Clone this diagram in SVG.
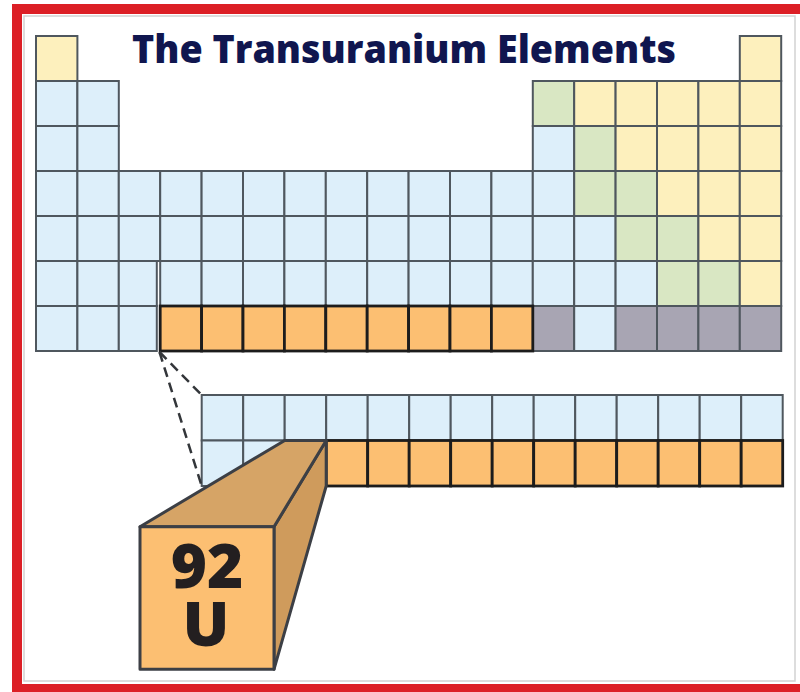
<svg xmlns="http://www.w3.org/2000/svg" width="800" height="692" viewBox="0 0 800 692">
<style>
.c{stroke:#4f575e;stroke-width:2}
.b{fill:#ddeffa}
.y{fill:#fdf0bd}
.g{fill:#d9e7c3}
.k{fill:#a8a5b3}
.o{fill:#fcbf72;stroke:#1c1c1c;stroke-width:2.8}
.face{stroke:#3c3f45;stroke-width:3;stroke-linejoin:round}
.lbl{font-family:"Open Sans","Liberation Sans",sans-serif;font-weight:800;text-anchor:middle}
.dash{stroke:#33363a;stroke-width:2.5;stroke-dasharray:10 6;fill:none}
</style>
<rect x="0" y="0" width="800" height="692" fill="#ffffff"/>
<g id="frame">
<rect x="24" y="16" width="771" height="665" fill="none" stroke="#d2d2d2" stroke-width="1.5"/>
<rect x="17" y="9" width="800" height="680" fill="none" stroke="#dc1f26" stroke-width="10"/>
</g>
<g id="title">
<text class="lbl" x="404" y="63" font-size="39" fill="#10164f" textLength="544" lengthAdjust="spacingAndGlyphs">The Transuranium Elements</text>
</g>
<g id="main-table">
<rect class="c y" x="36" y="36" width="41.4" height="45"/>
<rect class="c y" x="739.8" y="36" width="41.4" height="45"/>
<rect class="c b" x="36" y="81" width="41.4" height="45"/>
<rect class="c b" x="77.4" y="81" width="41.4" height="45"/>
<rect class="c g" x="532.8" y="81" width="41.4" height="45"/>
<rect class="c y" x="574.2" y="81" width="41.4" height="45"/>
<rect class="c y" x="615.6" y="81" width="41.4" height="45"/>
<rect class="c y" x="657" y="81" width="41.4" height="45"/>
<rect class="c y" x="698.4" y="81" width="41.4" height="45"/>
<rect class="c y" x="739.8" y="81" width="41.4" height="45"/>
<rect class="c b" x="36" y="126" width="41.4" height="45"/>
<rect class="c b" x="77.4" y="126" width="41.4" height="45"/>
<rect class="c b" x="532.8" y="126" width="41.4" height="45"/>
<rect class="c g" x="574.2" y="126" width="41.4" height="45"/>
<rect class="c y" x="615.6" y="126" width="41.4" height="45"/>
<rect class="c y" x="657" y="126" width="41.4" height="45"/>
<rect class="c y" x="698.4" y="126" width="41.4" height="45"/>
<rect class="c y" x="739.8" y="126" width="41.4" height="45"/>
<rect class="c b" x="36" y="171" width="41.4" height="45"/>
<rect class="c b" x="77.4" y="171" width="41.4" height="45"/>
<rect class="c b" x="118.8" y="171" width="41.4" height="45"/>
<rect class="c b" x="160.2" y="171" width="41.4" height="45"/>
<rect class="c b" x="201.6" y="171" width="41.4" height="45"/>
<rect class="c b" x="243" y="171" width="41.4" height="45"/>
<rect class="c b" x="284.4" y="171" width="41.4" height="45"/>
<rect class="c b" x="325.8" y="171" width="41.4" height="45"/>
<rect class="c b" x="367.2" y="171" width="41.4" height="45"/>
<rect class="c b" x="408.6" y="171" width="41.4" height="45"/>
<rect class="c b" x="450" y="171" width="41.4" height="45"/>
<rect class="c b" x="491.4" y="171" width="41.4" height="45"/>
<rect class="c b" x="532.8" y="171" width="41.4" height="45"/>
<rect class="c g" x="574.2" y="171" width="41.4" height="45"/>
<rect class="c g" x="615.6" y="171" width="41.4" height="45"/>
<rect class="c y" x="657" y="171" width="41.4" height="45"/>
<rect class="c y" x="698.4" y="171" width="41.4" height="45"/>
<rect class="c y" x="739.8" y="171" width="41.4" height="45"/>
<rect class="c b" x="36" y="216" width="41.4" height="45"/>
<rect class="c b" x="77.4" y="216" width="41.4" height="45"/>
<rect class="c b" x="118.8" y="216" width="41.4" height="45"/>
<rect class="c b" x="160.2" y="216" width="41.4" height="45"/>
<rect class="c b" x="201.6" y="216" width="41.4" height="45"/>
<rect class="c b" x="243" y="216" width="41.4" height="45"/>
<rect class="c b" x="284.4" y="216" width="41.4" height="45"/>
<rect class="c b" x="325.8" y="216" width="41.4" height="45"/>
<rect class="c b" x="367.2" y="216" width="41.4" height="45"/>
<rect class="c b" x="408.6" y="216" width="41.4" height="45"/>
<rect class="c b" x="450" y="216" width="41.4" height="45"/>
<rect class="c b" x="491.4" y="216" width="41.4" height="45"/>
<rect class="c b" x="532.8" y="216" width="41.4" height="45"/>
<rect class="c b" x="574.2" y="216" width="41.4" height="45"/>
<rect class="c g" x="615.6" y="216" width="41.4" height="45"/>
<rect class="c g" x="657" y="216" width="41.4" height="45"/>
<rect class="c y" x="698.4" y="216" width="41.4" height="45"/>
<rect class="c y" x="739.8" y="216" width="41.4" height="45"/>
<rect class="c b" x="36" y="261" width="41.4" height="45"/>
<rect class="c b" x="77.4" y="261" width="41.4" height="45"/>
<rect class="c b" x="118.8" y="261" width="38" height="45"/>
<rect class="c b" x="160.2" y="261" width="41.4" height="45"/>
<rect class="c b" x="201.6" y="261" width="41.4" height="45"/>
<rect class="c b" x="243" y="261" width="41.4" height="45"/>
<rect class="c b" x="284.4" y="261" width="41.4" height="45"/>
<rect class="c b" x="325.8" y="261" width="41.4" height="45"/>
<rect class="c b" x="367.2" y="261" width="41.4" height="45"/>
<rect class="c b" x="408.6" y="261" width="41.4" height="45"/>
<rect class="c b" x="450" y="261" width="41.4" height="45"/>
<rect class="c b" x="491.4" y="261" width="41.4" height="45"/>
<rect class="c b" x="532.8" y="261" width="41.4" height="45"/>
<rect class="c b" x="574.2" y="261" width="41.4" height="45"/>
<rect class="c b" x="615.6" y="261" width="41.4" height="45"/>
<rect class="c g" x="657" y="261" width="41.4" height="45"/>
<rect class="c g" x="698.4" y="261" width="41.4" height="45"/>
<rect class="c y" x="739.8" y="261" width="41.4" height="45"/>
<rect class="c b" x="36" y="306" width="41.4" height="45"/>
<rect class="c b" x="77.4" y="306" width="41.4" height="45"/>
<rect class="c b" x="118.8" y="306" width="38" height="45"/>
<rect class="c k" x="532.8" y="306" width="41.4" height="45"/>
<rect class="c b" x="574.2" y="306" width="41.4" height="45"/>
<rect class="c k" x="615.6" y="306" width="41.4" height="45"/>
<rect class="c k" x="657" y="306" width="41.4" height="45"/>
<rect class="c k" x="698.4" y="306" width="41.4" height="45"/>
<rect class="c k" x="739.8" y="306" width="41.4" height="45"/>
<rect class="o" x="160.2" y="306" width="41.4" height="45"/>
<rect class="o" x="201.6" y="306" width="41.4" height="45"/>
<rect class="o" x="243" y="306" width="41.4" height="45"/>
<rect class="o" x="284.4" y="306" width="41.4" height="45"/>
<rect class="o" x="325.8" y="306" width="41.4" height="45"/>
<rect class="o" x="367.2" y="306" width="41.4" height="45"/>
<rect class="o" x="408.6" y="306" width="41.4" height="45"/>
<rect class="o" x="450" y="306" width="41.4" height="45"/>
<rect class="o" x="491.4" y="306" width="41.4" height="45"/>
</g>
<g id="actinide-row">
<rect class="c b" x="201.7" y="395" width="41.5" height="45.5"/>
<rect class="c b" x="243.2" y="395" width="41.5" height="45.5"/>
<rect class="c b" x="284.7" y="395" width="41.5" height="45.5"/>
<rect class="c b" x="326.2" y="395" width="41.5" height="45.5"/>
<rect class="c b" x="367.7" y="395" width="41.5" height="45.5"/>
<rect class="c b" x="409.2" y="395" width="41.5" height="45.5"/>
<rect class="c b" x="450.7" y="395" width="41.5" height="45.5"/>
<rect class="c b" x="492.2" y="395" width="41.5" height="45.5"/>
<rect class="c b" x="533.7" y="395" width="41.5" height="45.5"/>
<rect class="c b" x="575.2" y="395" width="41.5" height="45.5"/>
<rect class="c b" x="616.7" y="395" width="41.5" height="45.5"/>
<rect class="c b" x="658.2" y="395" width="41.5" height="45.5"/>
<rect class="c b" x="699.7" y="395" width="41.5" height="45.5"/>
<rect class="c b" x="741.2" y="395" width="41.5" height="45.5"/>
<rect class="c b" x="201.7" y="440.5" width="41.5" height="45.5"/>
<rect class="c b" x="243.2" y="440.5" width="41.5" height="45.5"/>
<rect class="c b" x="284.7" y="440.5" width="41.5" height="45.5"/>
<rect class="o" x="326.2" y="440.5" width="41.5" height="45.5"/>
<rect class="o" x="367.7" y="440.5" width="41.5" height="45.5"/>
<rect class="o" x="409.2" y="440.5" width="41.5" height="45.5"/>
<rect class="o" x="450.7" y="440.5" width="41.5" height="45.5"/>
<rect class="o" x="492.2" y="440.5" width="41.5" height="45.5"/>
<rect class="o" x="533.7" y="440.5" width="41.5" height="45.5"/>
<rect class="o" x="575.2" y="440.5" width="41.5" height="45.5"/>
<rect class="o" x="616.7" y="440.5" width="41.5" height="45.5"/>
<rect class="o" x="658.2" y="440.5" width="41.5" height="45.5"/>
<rect class="o" x="699.7" y="440.5" width="41.5" height="45.5"/>
<rect class="o" x="741.2" y="440.5" width="41.5" height="45.5"/>
</g>
<g id="connectors">
<line class="dash" x1="159.5" y1="352" x2="201.7" y2="395"/>
<line class="dash" x1="159.5" y1="352" x2="201.7" y2="486"/>
</g>
<g id="uranium-cell">
<polygon class="face" points="274,526.7 326.2,440.5 326.2,486 274,669.3" fill="#cf9b5c"/>
<polygon class="face" points="140,526.7 284.7,440.5 326.2,440.5 274,526.7" fill="#d6a466"/>
<rect class="face" x="140" y="526.7" width="134" height="142.6" fill="#fcbf72"/>
<text class="lbl" font-size="62" fill="#231f20"><tspan x="207" y="588">92</tspan><tspan x="206" y="646">U</tspan></text>
</g>
</svg>
